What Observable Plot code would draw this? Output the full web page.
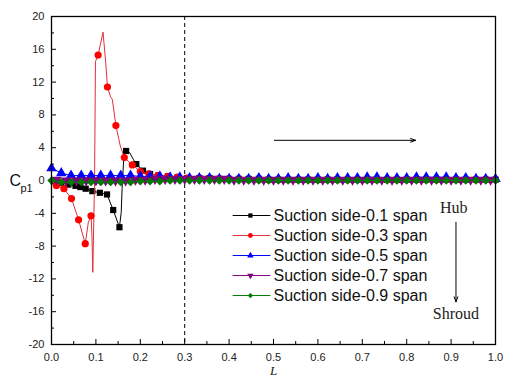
<!DOCTYPE html>
<html><head><meta charset="utf-8">
<script src="https://cdn.jsdelivr.net/npm/d3@7"></script>
<script src="https://cdn.jsdelivr.net/npm/@observablehq/plot@0.6"></script>
<style>body{margin:0;background:#fff;}</style>
</head><body><div id="chart"></div>
<script>
// ---- tick values ----
const xTicks = [0,0.1,0.2,0.3,0.4,0.5,0.6,0.7,0.8,0.9,1.0];
const xMinor = [0.05,0.15,0.25,0.35,0.45,0.55,0.65,0.75,0.85,0.95];
const yTicks = [-20,-16,-12,-8,-4,0,4,8,12,16,20];
const yMinor = [-18,-14,-10,-6,-2,2,6,10,14,18];

// ---- series data ----
const grid = [0,0.022,0.044,0.067,0.089,0.111,0.133,0.156,0.178,0.2,
  0.222,0.244,0.267,0.289,0.311,0.333,0.356,0.378,0.4,
  0.422,0.444,0.467,0.489,0.511,0.533,0.556,0.578,0.6,
  0.622,0.644,0.667,0.689,0.711,0.733,0.756,0.778,0.8,
  0.822,0.844,0.867,0.889,0.911,0.933,0.956,0.978,1.0];

const blackL = [0,0.005,0.022,0.038,0.054,0.065,0.077,0.092,0.109,0.125,0.139,0.153,0.157,0.159,0.163,0.168,0.176,0.184,0.191,0.206,0.222,0.24,0.262,0.284,0.306,
  0.333,0.356,0.378,0.4,0.422,0.444,0.467,0.489,0.511,0.533,0.556,0.578,0.6,0.622,0.644,0.667,0.689,0.711,0.733,0.756,0.778,0.8,0.822,0.844,0.867,0.889,0.911,0.933,0.956,0.978,1.0];
const blackCp = [0,-0.1,-0.3,-0.5,-0.65,-0.8,-1.0,-1.3,-1.5,-1.7,-3.6,-5.7,-3.9,-1.0,3.0,3.6,3.4,2.6,2.0,1.2,0.8,0.6,0.5,0.4,0.3,
  0.3,0.3,0.2,0.2,0.2,0.2,0.2,0.1,0.1,0.1,0.1,0.1,0.1,0.1,0.1,0.1,0.1,0.1,0.1,0.1,0.1,0.1,0.1,0.1,0.1,0.1,0.1,0.1,0.1,0.1,0.1];
const blackMark = [0,1,1,1,1,1,1,1,1,1,1,1,0,0,0,1,0,0,1,1,1,1,1,1,1,
  1,1,1,1,1,1,1,1,1,1,1,1,1,1,1,1,1,1,1,1,1,1,1,1,1,1,1,1,1,1,1];

const redL = [0,0.011,0.028,0.045,0.061,0.076,0.083,0.089,0.091,0.093,0.097,0.099,0.105,0.116,0.122,0.126,0.133,0.137,0.145,0.155,0.164,0.182,0.2,0.219,0.24,0.262,0.284,0.306,
  0.333,0.356,0.378,0.4,0.422,0.444,0.467,0.489,0.511,0.533,0.556,0.578,0.6,0.622,0.644,0.667,0.689,0.711,0.733,0.756,0.778,0.8,0.822,0.844,0.867,0.889,0.911,0.933,0.956,0.978,1.0];
const redCp = [0,-0.6,-1.0,-2.2,-4.8,-7.7,-5.1,-4.3,-6.5,-11.2,0,14.5,15.3,18.1,14.5,11.4,10.2,9.9,6.7,4.2,2.8,1.9,1.1,0.8,0.6,0.5,0.4,0.3,
  0.3,0.2,0.2,0.2,0.2,0.1,0.1,0.1,0.1,0.1,0.1,0.1,0.1,0.1,0.1,0.1,0.1,0.1,0.1,0.1,0.1,0.1,0.1,0.1,0.1,0.1,0.1,0.1,0.1,0.1,0.1];
const redMark = [0,1,1,1,1,1,0,1,0,0,0,0,1,0,0,1,0,0,1,0,1,1,1,1,1,1,1,1,
  1,1,1,1,1,1,1,1,1,1,1,1,1,1,1,1,1,1,1,1,1,1,1,1,1,1,1,1,1,1,1];

const blueCp = [1.5,0.9,0.6,0.6,0.6,0.6,0.6,0.6,0.6,0.5,
  0.5,0.5,0.4,0.4,0.3,0.3,0.3,0.2,0.2,
  0.2,0.2,0.3,0.2,0.2,0.3,0.2,0.2,0.3,
  0.2,0.3,0.3,0.3,0.4,0.4,0.3,0.3,0.3,
  0.4,0.4,0.4,0.4,0.3,0.3,0.2,0.2,0.2];

const purpleL = [0.011,0.033,0.056,0.078,0.1,0.122,0.144,0.167,0.189,0.211,
  0.233,0.256,0.278,0.3,0.322,0.344,0.367,0.389,0.411,
  0.433,0.456,0.478,0.5,0.522,0.544,0.567,0.589,0.611,
  0.633,0.656,0.678,0.7,0.722,0.744,0.767,0.789,0.811,
  0.833,0.856,0.878,0.9,0.922,0.944,0.967,0.989];
const purpleCp = [0.1,0.0,0.0,0.0,0.0,0.0,0.0,0.0,0.1,0.1,
  0.2,0.2,0.2,0.2,0.2,0.2,0.2,0.2,0.1,
  0.1,0.1,0.1,0.1,0.1,0.1,0.1,0.1,0.1,
  0.1,0.1,0.1,0.1,0.1,0.1,0.1,0.1,0.1,
  0.1,0.1,0.1,0.1,0.1,0.1,0.1,0.1];

const greenCp = [0.0,-0.2,-0.2,-0.2,-0.2,-0.2,-0.2,-0.2,-0.2,-0.1,
  -0.1,-0.1,0.0,0.0,0.0,0.0,0.0,0.0,0.0,
  0.0,0.0,0.0,0.0,0.0,0.0,0.0,0.0,0.0,
  0.0,0.0,0.0,0.0,0.0,0.0,0.0,0.0,0.0,
  0.0,0.0,0.0,0.0,0.0,0.0,0.0,0.0,0.0];

// ---- legend / annotations ----
const legendLabels = ["Suction side-0.1 span","Suction side-0.3 span","Suction side-0.5 span","Suction side-0.7 span","Suction side-0.9 span"];
const lineColors = ["#000000","#e0303c","#0000ff","#800080","#007a00"];
const markColors = ["#000000","#ff0000","#0000ff","#800080","#007a00"];

const triangleDown = {draw(ctx, size){ const r = Math.sqrt(size/1.3); ctx.moveTo(-r*0.87,-r*0.5); ctx.lineTo(r*0.87,-r*0.5); ctx.lineTo(0,r); ctx.closePath(); }};
const symbols = ["square","circle","triangle",triangleDown,"diamond2"];

const rows = (L, C, M) => L.map((x,i) => ({x, y: C[i], m: M ? M[i] : 1}));
const series = [
  rows(blackL, blackCp, blackMark),
  rows(redL, redCp, redMark),
  rows(grid, blueCp),
  rows(purpleL, purpleCp),
  rows(grid, greenCp)
];
const sizes = [3.5, 3.6, 3.9, 3.9, 3.8];

const seriesMarks = series.flatMap((d,i) => [
  Plot.line(d, {x:"x", y:"y", stroke: lineColors[i], strokeWidth: 1}),
  Plot.dot(d.filter(p => p.m), {x:"x", y:"y", symbol: symbols[i], fill: markColors[i], stroke: "none", r: sizes[i]})
]);

// legend layout (in data units)
const legX1 = 0.408, legX2 = 0.493, legXM = 0.448, legXT = 0.5;
const legY = (i) => -4.27 - i*2.44;
const legendMarks = legendLabels.flatMap((t,i) => [
  Plot.link([t], {x1: legX1, x2: legX2, y1: legY(i), y2: legY(i), stroke: lineColors[i], strokeWidth: 1}),
  Plot.dot([t], {x: legXM, y: legY(i), symbol: symbols[i], fill: markColors[i], stroke: "none", r: 2.4}),
  Plot.text([t], {x: legXT, y: legY(i), text: d => d, textAnchor: "start", fontSize: 16, fill: "#111"})
]);

const arrows = [
  {x1: 0.502, y1: 4.9, x2: 0.82, y2: 4.9},
  {x1: 0.911, y1: -5.1, x2: 0.911, y2: -14.8}
];

const chart = Plot.plot({
  width: 507, height: 381,
  marginLeft: 51, marginRight: 12, marginTop: 16, marginBottom: 37,
  x: {domain: [0, 1]},
  y: {domain: [-20, 20]},
  style: {fontFamily: "Arial, 'Liberation Sans', sans-serif", fontSize: "11px", color: "#222", background: "#fff"},
  marks: [
    Plot.ruleX([0.3], {stroke: "#000", strokeDasharray: "4,3", strokeWidth: 1}),
    Plot.axisX(xTicks, {tickSize: -5, tickFormat: () => "", stroke: "#000"}),
    Plot.axisX(xMinor, {tickSize: -3, tickFormat: () => "", stroke: "#000"}),
    Plot.axisX(xTicks, {tickSize: 0, tickPadding: 9, tickFormat: d3.format(".1f"), fontSize: 11}),
    Plot.axisY(yTicks, {tickSize: -5, tickFormat: () => "", stroke: "#000"}),
    Plot.axisY(yMinor, {tickSize: -3, tickFormat: () => "", stroke: "#000"}),
    Plot.axisY(yTicks, {tickSize: 0, tickPadding: 7, tickFormat: d => String(d), fontSize: 11}),
    ...seriesMarks,
    ...legendMarks,
    Plot.arrow(arrows, {x1:"x1", y1:"y1", x2:"x2", y2:"y2", stroke: "#000", strokeWidth: 1, headLength: 8, headAngle: 40}),
    Plot.text(["Hub"], {x: 0.906, y: -3.3, text: d => d, fontFamily: "'Times New Roman', 'Liberation Serif', serif", fontSize: 16}),
    Plot.text(["Shroud"], {x: 0.911, y: -16.3, text: d => d, fontFamily: "'Times New Roman', 'Liberation Serif', serif", fontSize: 16}),
    Plot.text(["C"], {y: 0, frameAnchor: "left", dx: -42, text: d => d, fontSize: 16, textAnchor: "start", fill: "#111"}),
    Plot.text(["p1"], {y: 0, frameAnchor: "left", dx: -31, dy: 8, text: d => d, fontSize: 11, textAnchor: "start", fill: "#111"}),
    Plot.text(["L"], {x: 0.5, frameAnchor: "bottom", dy: 30, text: d => d, fontSize: 13, fontStyle: "italic", fontFamily: "'Times New Roman', 'Liberation Serif', serif"}),
    Plot.frame({stroke: "#000", strokeWidth: 1.3})
  ]
});
document.getElementById("chart").appendChild(chart);
</script>
</body></html>
